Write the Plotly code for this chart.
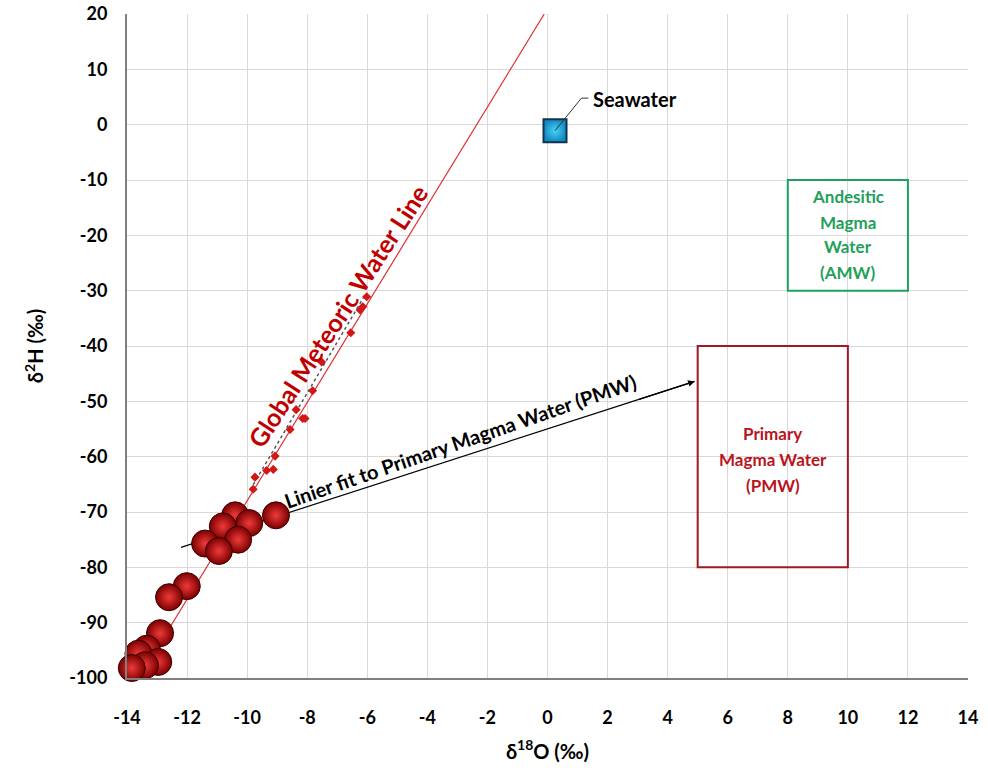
import plotly.graph_objects as go

# ---- data ----
sample_d18o = [-10.40, -9.93, -10.81, -9.04, -10.30, -11.40, -10.94, -12.01, -12.60,
               -12.90, -13.34, -13.62, -12.96, -13.40, -13.84]
sample_d2h = [-70.6, -72.0, -72.6, -70.6, -75.0, -75.7, -77.05, -83.4, -85.4,
              -91.9, -94.7, -95.6, -97.1, -97.7, -98.2]

small_d18o = [-6.02, -6.24, -6.15, -6.55, -7.52, -7.82, -8.37, -8.15, -8.07, -8.57,
              -9.07, -9.35, -9.13, -9.74, -9.80]
small_d2h = [-31.1, -33.5, -32.9, -37.6, -42.9, -48.1, -51.5, -53.1, -53.1, -55.1,
             -59.9, -62.5, -62.3, -63.7, -65.9]

gmwl_x = [-13.6, -0.11]
gmwl_y = [-100.0, 20.0]

trend_x = [-9.9, -6.1]
trend_y = [-66.0, -31.0]

fit_x = [-12.2, 4.9]
fit_y = [-76.4, -46.4]

seawater_x = [0.25]
seawater_y = [-1.1]

amw_box = dict(x0=8, x1=12, y0=-10, y1=-30)
pmw_box = dict(x0=5, x1=10, y0=-40, y1=-80)

amw_lines = ["Andesitic", "Magma", "Water", "(AMW)"]
amw_line_y = [-13.0, -17.7, -22.1, -26.8]
pmw_lines = ["Primary", "Magma Water", "(PMW)"]
pmw_line_y = [-55.75, -60.55, -65.15]

x_ticks = list(range(-14, 15, 2))
y_ticks = list(range(-100, 21, 10))

FONT = "Lato"
DARKRED = "#C00000"

fig = go.Figure()

# GMWL
fig.add_trace(go.Scatter(x=gmwl_x, y=gmwl_y, mode="lines",
                         line=dict(color="#E03030", width=1.2), hoverinfo="skip"))
# trend dotted
fig.add_trace(go.Scatter(x=trend_x, y=trend_y, mode="lines",
                         line=dict(color="#555555", width=1.5, dash="dot"), hoverinfo="skip"))
# linear fit line
fig.add_trace(go.Scatter(x=fit_x, y=fit_y, mode="lines",
                         line=dict(color="black", width=1.2), hoverinfo="skip"))
# small points
fig.add_trace(go.Scatter(x=small_d18o, y=small_d2h, mode="markers",
                         marker=dict(symbol="diamond", size=7, color="#D01818",
                                     line=dict(width=0)), hoverinfo="skip"))
# spheres
fig.add_trace(go.Scatter(x=sample_d18o, y=sample_d2h, mode="markers", cliponaxis=False,
                         marker=dict(size=27, color="#7A0000",
                                     gradient=dict(type="radial", color="#F03A3A"),
                                     line=dict(color="#3A0000", width=1)),
                         hoverinfo="skip"))
# seawater
fig.add_trace(go.Scatter(x=seawater_x, y=seawater_y, mode="markers",
                         marker=dict(symbol="square", size=23, color="#1488C0",
                                     gradient=dict(type="radial", color="#46D2F5"),
                                     line=dict(color="#12334F", width=2)),
                         hoverinfo="skip"))

# seawater callout
fig.add_shape(type="line", x0=seawater_x[0], y0=seawater_y[0], x1=1.13, y1=4.8,
              line=dict(color="#333333", width=1))
fig.add_shape(type="line", x0=1.13, y0=4.8, x1=1.36, y1=4.8,
              line=dict(color="#333333", width=1))
fig.add_annotation(x=1.45, y=4.6, text="<b>Seawater</b>", showarrow=False,
                   xanchor="left", yanchor="middle",
                   font=dict(family=FONT, size=20, color="black"))

# boxes
fig.add_shape(type="rect", **amw_box, line=dict(color="#1FA060", width=2))
fig.add_shape(type="rect", **pmw_box, line=dict(color="#A01820", width=2))
for t, yy in zip(amw_lines, amw_line_y):
    fig.add_annotation(x=10, y=yy, text=f"<b>{t}</b>", showarrow=False, yanchor="middle",
                       font=dict(family=FONT, size=17, color="#22A05A"))
for t, yy in zip(pmw_lines, pmw_line_y):
    fig.add_annotation(x=7.5, y=yy, text=f"<b>{t}</b>", showarrow=False, yanchor="middle",
                       font=dict(family=FONT, size=17, color="#B8141C"))

# arrow head of fit
fig.add_annotation(x=fit_x[1], y=fit_y[1], ax=3.0, ay=-49.73, xref="x", yref="y",
                   axref="x", ayref="y", showarrow=True, arrowhead=2, arrowsize=1.1,
                   arrowwidth=1.2, arrowcolor="black", standoff=0, text="")

# labels
fig.add_annotation(x=-2.9, y=-57.2, text="<b>Linier fit to Primary Magma Water (PMW)</b>",
                   showarrow=False, textangle=-19,
                   font=dict(family=FONT, size=20, color="black"))
fig.add_annotation(x=-7.0, y=-34.5, text="<b>Global Meteoric Water Line</b>",
                   showarrow=False, textangle=-57,
                   font=dict(family=FONT, size=25, color=DARKRED))

fig.update_xaxes(range=[-14, 14], tickvals=x_ticks,
                 ticktext=[f"<b>{v}</b>" for v in x_ticks],
                 showgrid=True, gridcolor="#D9D9D9", gridwidth=1, automargin=False,
                 showline=True, linecolor="#808080", linewidth=2, zeroline=False,
                 ticks="", ticklabelstandoff=22,
                 tickfont=dict(family=FONT, size=18, color="black"),
                 title=dict(text="<b>δ<sup>18</sup>O (‰)</b>", standoff=18,
                            font=dict(family=FONT, size=20, color="black")))
fig.update_yaxes(range=[-100, 20], tickvals=y_ticks,
                 ticktext=[f"<b>{v}</b>" for v in y_ticks],
                 showgrid=True, gridcolor="#D9D9D9", gridwidth=1, automargin=False,
                 showline=True, linecolor="#808080", linewidth=2, zeroline=False,
                 ticks="", ticklabelstandoff=14,
                 tickfont=dict(family=FONT, size=18, color="black"),
                 title=dict(text="<b>δ<sup>2</sup>H (‰)</b>", standoff=20,
                            font=dict(family=FONT, size=20, color="black")))

fig.update_layout(width=988, height=772, showlegend=False,
                  margin=dict(l=127, r=20, t=14, b=94),
                  plot_bgcolor="white", paper_bgcolor="white")

fig.write_html("out.html")
